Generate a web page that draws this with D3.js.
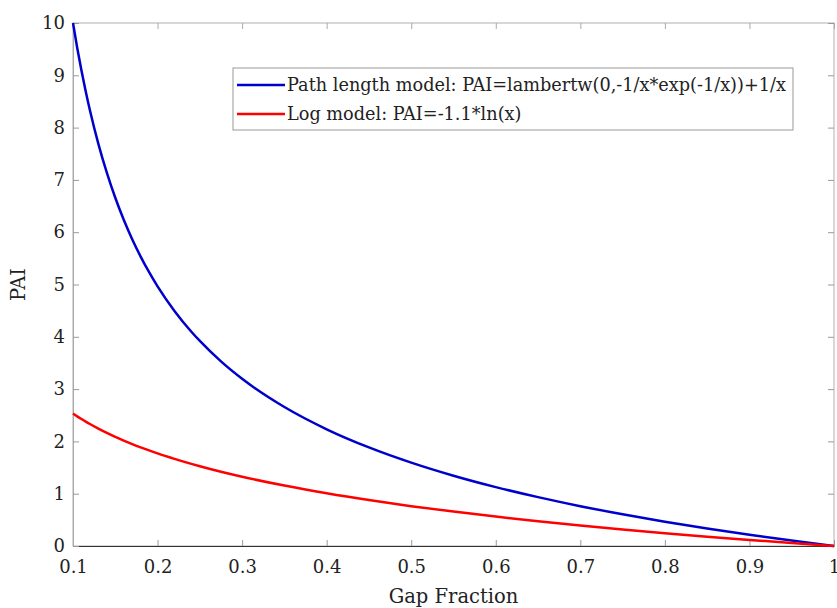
<!DOCTYPE html>
<html>
<head>
<meta charset='utf-8'>
<title>PAI vs Gap Fraction</title>
<script src='https://d3js.org/d3.v7.min.js'></script>
<style>
  body { margin: 0; background: #fff; }
  text { font-family: 'DejaVu Serif', 'Liberation Serif', serif; fill: #222; }
</style>
</head>
<body>
<div id='chart'></div>
<script>
// valores
const gapFraction = [0.1, 0.105, 0.11, 0.115, 0.12, 0.13, 0.14, 0.15, 0.16, 0.17, 0.18, 0.19, 0.2, 0.22, 0.24, 0.25, 0.275, 0.3, 0.35, 0.4, 0.45, 0.5, 0.55, 0.6, 0.65, 0.7, 0.75, 0.8, 0.85, 0.9, 0.95, 1.0];
const pathLengthPAI = [10.0, 9.523, 9.090, 8.694, 8.331, 7.689, 7.137, 6.658, 6.238, 5.866, 5.534, 5.235, 4.965, 4.495, 4.097, 3.921, 3.530, 3.197, 2.657, 2.232, 1.885, 1.594, 1.344, 1.126, 0.934, 0.761, 0.606, 0.464, 0.334, 0.215, 0.103, 0.0];
const logPAI = [2.533, 2.479, 2.428, 2.379, 2.332, 2.244, 2.163, 2.087, 2.016, 1.949, 1.886, 1.827, 1.770, 1.666, 1.570, 1.525, 1.420, 1.324, 1.155, 1.008, 0.878, 0.762, 0.658, 0.562, 0.474, 0.392, 0.317, 0.246, 0.179, 0.116, 0.056, 0.0];
const xTicks = [0.1, 0.2, 0.3, 0.4, 0.5, 0.6, 0.7, 0.8, 0.9, 1];
const yTicks = [0, 1, 2, 3, 4, 5, 6, 7, 8, 9, 10];
const seriesNames = ['Path length model: PAI=lambertw(0,-1/x*exp(-1/x))+1/x', 'Log model: PAI=-1.1*ln(x)'];
const seriesColors = ['#0000cc', '#ff0000'];

const margin = {top: 23, right: 3, bottom: 62, left: 73};
const W = 837, H = 608;
const w = W - margin.left - margin.right;
const h = H - margin.top - margin.bottom;

const svg = d3.select('#chart').append('svg')
    .attr('width', W).attr('height', H)
  .append('g')
    .attr('transform', `translate(${margin.left},${margin.top})`);

const x = d3.scaleLinear().domain([0.1, 1]).range([0, w]);
const y = d3.scaleLinear().domain([0, 10]).range([h, 0]);

// caixa (topo e direita)
svg.append('rect')
   .attr('width', w).attr('height', h)
   .attr('fill', 'none').attr('stroke', '#b0b0b0').attr('stroke-width', 1);

const fmtX = d => d === 1 ? '1' : d.toFixed(1);

// eixo X
const gx = svg.append('g').attr('transform', `translate(0,${h})`)
   .call(d3.axisBottom(x).tickValues(xTicks).tickFormat(fmtX).tickSizeInner(-6).tickSizeOuter(0).tickPadding(14));
gx.select('.domain').attr('stroke', '#333');
gx.selectAll('.tick line').attr('stroke', '#999');
gx.selectAll('text').attr('font-size', '18px').attr('fill', '#222');

// ticks do topo
svg.append('g')
   .call(d3.axisTop(x).tickValues(xTicks).tickFormat('').tickSizeInner(-6).tickSizeOuter(0))
   .call(g => g.select('.domain').remove())
   .selectAll('.tick line').attr('stroke', '#aaa');

// eixo Y
const gy = svg.append('g')
   .call(d3.axisLeft(y).tickValues(yTicks).tickSizeInner(-6).tickSizeOuter(0).tickPadding(8));
gy.select('.domain').attr('stroke', '#aaa');
gy.selectAll('.tick line').attr('stroke', '#999');
gy.selectAll('text').attr('font-size', '18px').attr('fill', '#222');

// ticks da direita
svg.append('g').attr('transform', `translate(${w},0)`)
   .call(d3.axisRight(y).tickValues(yTicks).tickFormat('').tickSizeInner(-6).tickSizeOuter(0))
   .call(g => g.select('.domain').remove())
   .selectAll('.tick line').attr('stroke', '#999');

// curvas
const line = d3.line().x(d => x(d[0])).y(d => y(d[1])).curve(d3.curveMonotoneX);
[pathLengthPAI, logPAI].forEach((vals, i) => {
  svg.append('path')
     .datum(gapFraction.map((g, j) => [g, vals[j]]))
     .attr('fill', 'none')
     .attr('stroke', seriesColors[i])
     .attr('stroke-width', 2.5)
     .attr('d', line);
});

// legenda
const lg = svg.append('g').attr('transform', `translate(${233 - margin.left},${68 - margin.top})`);
lg.append('rect').attr('width', 560).attr('height', 62)
  .attr('fill', '#fff').attr('stroke', '#999').attr('stroke-width', 1);
seriesNames.forEach((name, i) => {
  const yy = 17 + i * 29;
  lg.append('line').attr('x1', 4).attr('x2', 52).attr('y1', yy).attr('y2', yy)
    .attr('stroke', seriesColors[i]).attr('stroke-width', 2.5);
  lg.append('text').attr('x', 54).attr('y', yy).attr('dy', '0.35em')
    .attr('font-size', '17.7px').text(name);
});

// títulos
svg.append('text')
   .attr('x', w / 2).attr('y', h + 57)
   .attr('text-anchor', 'middle').attr('font-size', '19.5px')
   .text('Gap Fraction');

svg.append('text')
   .attr('transform', 'rotate(-90)')
   .attr('x', -h / 2).attr('y', -48)
   .attr('text-anchor', 'middle').attr('font-size', '19.5px')
   .text('PAI');
</script>
</body>
</html>
